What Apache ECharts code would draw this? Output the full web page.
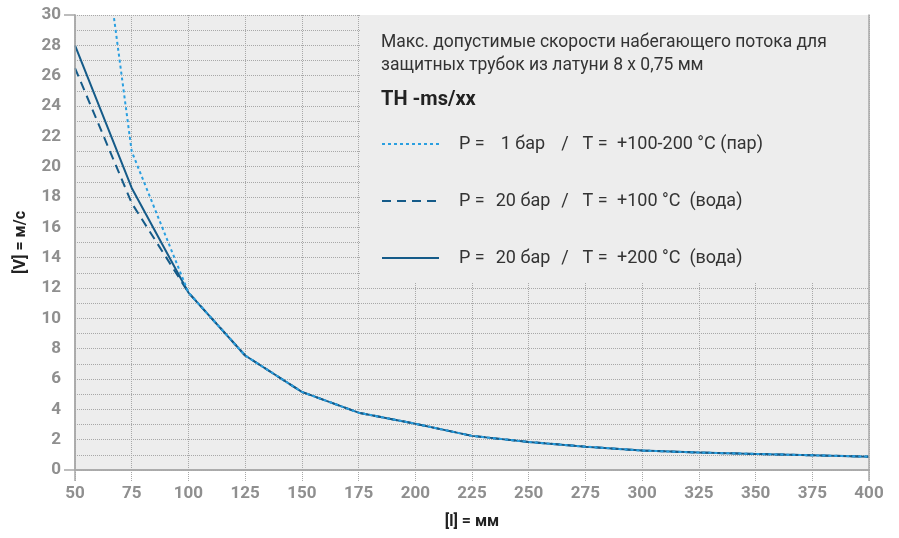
<!DOCTYPE html>
<html>
<head>
<meta charset="utf-8">
<script src="https://cdn.jsdelivr.net/npm/echarts@6/dist/echarts.min.js"></script>
<style>
html,body{margin:0;padding:0;background:#fff;}
#c{width:899px;height:538px;}
</style>
</head>
<body>
<div id="c"></div>
<script>
// Data
const xSolid = [50, 75, 100, 125, 150, 175, 200, 225, 250, 275, 300, 325, 350, 375, 400];
const vSolid = [28.0, 18.6, 11.7, 7.55, 5.15, 3.78, 3.05, 2.25, 1.85, 1.54, 1.28, 1.15, 1.06, 0.97, 0.88];
const xDashed = [50, 75, 100, 125, 150, 175, 200, 225, 250, 275, 300, 325, 350, 375, 400];
const vDashed = [26.5, 17.6, 11.7, 7.55, 5.15, 3.78, 3.05, 2.25, 1.85, 1.54, 1.28, 1.15, 1.06, 0.97, 0.88];
const xDotted = [67.2, 75, 100, 125, 150, 175, 200, 225, 250, 275, 300, 325, 350, 375, 400];
const vDotted = [29.8, 21.0, 11.7, 7.55, 5.15, 3.78, 3.05, 2.25, 1.85, 1.54, 1.28, 1.15, 1.06, 0.97, 0.88];
const seriesNames = [
  'P =  1 бар  /  T = +100-200 °C (пар)',
  'P = 20 бар  /  T = +100 °C  (вода)',
  'P = 20 бар  /  T = +200 °C  (вода)'
];
// legend text parts: [pressure, temperature + medium]
const legendP = ['1 бар', '20 бар', '20 бар'];
const legendT = ['+100-200 °C (пар)', '+100 °C  (вода)', '+200 °C  (вода)'];
const boxTitle = 'Макс. допустимые скорости набегающего потока для\nзащитных трубок из латуни 8 x 0,75 мм';
const boxSubtitle = 'TH -ms/xx';
const xName = '[l] = мм';
const yName = '[V] = м/с';
const legendBox = [[176, 12.4], [400, 30]];

const zip = (xs, vs) => xs.map((x, i) => [x, vs[i]]);

const FONT = 'Roboto';
const GRID_C = '#a8a8a8';
const DARK = '#155b89';
const LIGHT = '#2a9fe0';
const LBL = '#8f8f8f';

const chart = echarts.init(document.getElementById('c'));
chart.setOption({
  animation: false,
  textStyle: {fontFamily: FONT},
  grid: {left: 75, right: 30, top: 15, bottom: 68, show: true, backgroundColor: '#ededed', borderWidth: 0},
  title: [
    {text: boxTitle, left: 376, top: 26, textStyle: {fontFamily: FONT, fontSize: 17.5, fontWeight: 'normal', color: '#333', lineHeight: 23}},
    {text: boxSubtitle, left: 376, top: 85, textStyle: {fontFamily: FONT, fontSize: 20, fontWeight: 'bold', color: '#222'}}
  ],
  legend: {
    data: [seriesNames[0], seriesNames[1], seriesNames[2]],
    orient: 'vertical', left: 376, top: 130,
    itemWidth: 57, itemHeight: 14, itemGap: 39,
    selectedMode: false,
    itemStyle: {opacity: 0},
    formatter: name => {
      const i = seriesNames.indexOf(name);
      return '{a|P =}{b|' + legendP[i] + '}{c|/}{d|T =}{e|' + legendT[i] + '}';
    },
    textStyle: {fontFamily: FONT, fontSize: 18, color: '#333', padding: [0, 0, 0, 15],
      rich: {
        a: {fontFamily: FONT, fontSize: 18, color: '#333', width: 30, align: 'left'},
        b: {fontFamily: FONT, fontSize: 18, color: '#333', width: 68, align: 'right'},
        c: {fontFamily: FONT, fontSize: 18, color: '#333', width: 16, align: 'center'},
        d: {fontFamily: FONT, fontSize: 18, color: '#333', width: 44, align: 'left'},
        e: {fontFamily: FONT, fontSize: 18, color: '#333', align: 'left'}
      }}
  },
  xAxis: [
    {type: 'value', min: 50, max: 400, interval: 25, position: 'bottom',
     name: xName, nameLocation: 'middle', nameGap: 44,
     nameTextStyle: {fontFamily: FONT, fontSize: 16, fontWeight: 'bold', color: '#222'},
     axisLine: {show: true, lineStyle: {color: GRID_C, width: 1.5}},
     axisTick: {show: true, length: 11, lineStyle: {color: GRID_C, type: 'dotted'}},
     axisLabel: {fontFamily: FONT, fontSize: 17, fontWeight: 'bold', color: LBL, margin: 15},
     splitLine: {show: true, lineStyle: {color: GRID_C, type: 'dotted'}}},
    {type: 'value', min: 50, max: 400, interval: 350, position: 'bottom', z: 5,
     axisLine: {show: false}, axisLabel: {show: false}, splitLine: {show: false},
     axisTick: {show: true, length: 11, lineStyle: {color: GRID_C, width: 1.5}}},
    {type: 'value', min: 50, max: 400, position: 'top', z: 5,
     axisLine: {show: true, lineStyle: {color: GRID_C, width: 1.5}},
     axisTick: {show: false}, axisLabel: {show: false}, splitLine: {show: false}}
  ],
  yAxis: [
    {type: 'value', min: 0, max: 30, interval: 1, position: 'left',
     name: yName, nameLocation: 'middle', nameGap: 46, nameRotate: 90,
     nameTextStyle: {fontFamily: FONT, fontSize: 16, fontWeight: 'bold', color: '#222'},
     axisLine: {show: true, lineStyle: {color: GRID_C, width: 1.5}},
     axisTick: {show: false},
     axisLabel: {fontFamily: FONT, fontSize: 17, fontWeight: 'bold', color: LBL, margin: 14,
       formatter: v => (v % 2 === 0 ? String(v) : '')},
     splitLine: {show: true, lineStyle: {color: GRID_C, type: 'dotted'}}},
    {type: 'value', min: 0, max: 30, interval: 30, position: 'left', z: 5,
     axisLine: {show: true, lineStyle: {color: GRID_C, width: 1.5}},
     axisTick: {show: true, length: 11, lineStyle: {color: GRID_C, width: 1.5}},
     axisLabel: {show: false}, splitLine: {show: false}},
    {type: 'value', min: 0, max: 30, position: 'right', z: 5,
     axisLine: {show: true, lineStyle: {color: GRID_C, width: 1.5}},
     axisTick: {show: false}, axisLabel: {show: false}, splitLine: {show: false}}
  ],
  series: [
    {name: seriesNames[2], type: 'line', data: zip(xSolid, vSolid), symbol: 'none',
     lineStyle: {color: DARK, width: 2}, itemStyle: {color: DARK},
     markArea: {silent: true, itemStyle: {color: '#ededed', opacity: 1},
       data: [[{coord: legendBox[0]}, {coord: legendBox[1]}]]}},
    {name: seriesNames[1], type: 'line', data: zip(xDashed, vDashed), symbol: 'none',
     lineStyle: {color: DARK, width: 2, type: [9, 6]}, itemStyle: {color: DARK}},
    {name: seriesNames[0], type: 'line', data: zip(xDotted, vDotted), symbol: 'none',
     lineStyle: {color: LIGHT, width: 2, type: [3, 3]}, itemStyle: {color: LIGHT}}
  ]
});
</script>
</body>
</html>
